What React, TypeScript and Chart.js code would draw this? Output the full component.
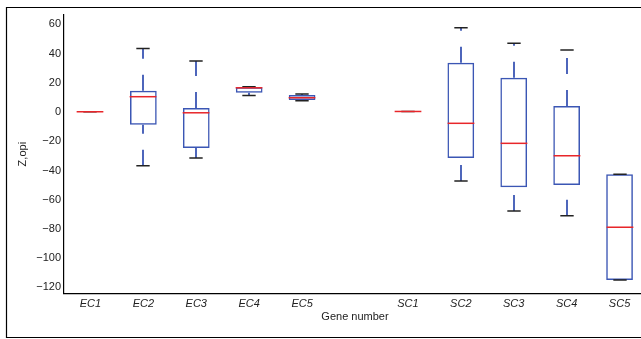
import React, { useEffect, useRef } from 'react';
import { Chart, registerables } from 'chart.js';

Chart.register(...registerables);

// ---- data ----
const categories = ['EC1', 'EC2', 'EC3', 'EC4', 'EC5', '', 'SC1', 'SC2', 'SC3', 'SC4', 'SC5'];
const lowerWhisker = [0.2, -36.7, -31.5, 11.4, 7.7, null, 0.4, -47.2, -67.7, -70.9, -114.9];
const q1 = [0.2, -8.7, -24.6, 13.2, 8.2, null, 0.4, -31.5, -51.5, -49.9, -114.9];
const median = [0.2, 10.5, -0.5, 16.6, 9.8, null, 0.4, -7.7, -21.4, -29.9, -78.8];
const q3 = [0.2, 14.6, 2.7, 16.9, 11.6, null, 0.4, 33.7, 23.5, 4.1, -42.6];
const upperWhisker = [0.2, 43.5, 34.9, 17.3, 12.3, null, 0.4, 57.6, 47.0, 42.4, -42.6];
const yTicks = [60, 40, 20, 0, -20, -40, -60, -80, -100, -120];

const FONT = '"Liberation Sans", Arial, Helvetica, sans-serif';
const BLUE = '#3b56b4';
const RED = '#e8262a';
const CAP = '#222222';
const TEXT = '#222222';

export default function App() {
  const ref = useRef<HTMLCanvasElement | null>(null);

  useEffect(() => {
    if (!ref.current) return;

    const boxParts = {
      id: 'boxParts',
      afterDatasetsDraw(chart: any) {
        const ctx = chart.ctx;
        const y = chart.scales.y;
        const meta = chart.getDatasetMeta(0);
        ctx.save();
        for (let i = 0; i < categories.length; i++) {
          if (median[i] == null) continue;
          const el = meta.data[i];
          const cx = Math.round(el.x);
          const w = el.width;
          const pLow = y.getPixelForValue(lowerWhisker[i] as number);
          const pQ1 = y.getPixelForValue(q1[i] as number);
          const pMed = y.getPixelForValue(median[i] as number);
          const pQ3 = y.getPixelForValue(q3[i] as number);
          const pUp = y.getPixelForValue(upperWhisker[i] as number);

          // dashed whiskers, drawn from bottom end upward
          ctx.strokeStyle = BLUE;
          ctx.lineWidth = 1.8;
          ctx.setLineDash([16, 16]);
          if (pUp < pQ3) {
            ctx.beginPath();
            ctx.moveTo(cx, pQ3);
            ctx.lineTo(cx, pUp);
            ctx.stroke();
          }
          if (pLow > pQ1) {
            ctx.beginPath();
            ctx.moveTo(cx, pLow);
            ctx.lineTo(cx, pQ1);
            ctx.stroke();
          }
          ctx.setLineDash([]);

          // caps
          ctx.strokeStyle = CAP;
          ctx.lineWidth = 1.5;
          ctx.beginPath();
          ctx.moveTo(cx - w / 4, pUp);
          ctx.lineTo(cx + w / 4, pUp);
          ctx.moveTo(cx - w / 4, pLow);
          ctx.lineTo(cx + w / 4, pLow);
          ctx.stroke();

          // median
          ctx.strokeStyle = RED;
          ctx.lineWidth = 1.5;
          ctx.beginPath();
          ctx.moveTo(cx - w / 2, pMed);
          ctx.lineTo(cx + w / 2, pMed);
          ctx.stroke();
        }
        ctx.restore();
      },
      afterDraw(chart: any) {
        const ctx = chart.ctx;
        ctx.save();
        ctx.strokeStyle = '#000';
        ctx.lineWidth = 1.2;
        ctx.beginPath();
        ctx.moveTo(700, 7.5);
        ctx.lineTo(6.5, 7.5);
        ctx.lineTo(6.5, 337.5);
        ctx.lineTo(700, 337.5);
        ctx.stroke();
        ctx.restore();
      },
    };

    const chart = new Chart(ref.current, {
      type: 'bar',
      data: {
        labels: categories,
        datasets: [
          {
            data: categories.map((_, i) => (q1[i] == null ? null : [q1[i], q3[i]])) as any,
            backgroundColor: 'rgba(255,255,255,0)',
            borderColor: BLUE,
            borderWidth: 1.5,
            borderSkipped: false,
            categoryPercentage: 1,
            barPercentage: 0.505,
          },
        ],
      },
      options: {
        responsive: false,
        maintainAspectRatio: false,
        animation: false,
        layout: { padding: { top: 15, right: 14, left: 0, bottom: 0 } },
        plugins: {
          legend: { display: false },
          tooltip: { enabled: false },
        },
        scales: {
          x: {
            grid: { display: false, drawTicks: false },
            border: { display: true, color: '#000', width: 1.2 },
            ticks: {
              font: { family: FONT, size: 11, style: 'italic' },
              color: TEXT,
              padding: 4,
              maxRotation: 0,
              autoSkip: false,
            },
            title: {
              display: true,
              text: 'Gene number',
              font: { family: FONT, size: 11 },
              color: TEXT,
              padding: { top: 0, bottom: 15 },
            },
            afterFit(s: any) {
              s.height = 45.7;
            },
          },
          y: {
            min: -124,
            max: 66.4,
            grid: { display: false, drawTicks: false },
            border: { display: true, color: '#000', width: 1.2 },
            ticks: {
              font: { family: FONT, size: 11 },
              color: TEXT,
              padding: 3,
              callback: (v: any) => String(v).replace('-', '\u2212'),
            },
            afterBuildTicks(s: any) {
              s.ticks = yTicks.map((v) => ({ value: v }));
            },
            title: {
              display: true,
              text: 'Z,opi',
              font: { family: FONT, size: 11 },
              color: TEXT,
              padding: { top: 16, bottom: 0 },
            },
            afterFit(s: any) {
              s.width = 64;
            },
          },
        },
      },
      plugins: [boxParts],
    });

    return () => chart.destroy();
  }, []);

  return (
    <div
      style={{
        position: 'fixed',
        left: 0,
        top: 0,
        width: 641,
        height: 339,
        overflow: 'hidden',
        background: '#fff',
      }}
    >
      <canvas ref={ref} width={660} height={339} style={{ width: 660, height: 339, display: 'block' }} />
    </div>
  );
}
